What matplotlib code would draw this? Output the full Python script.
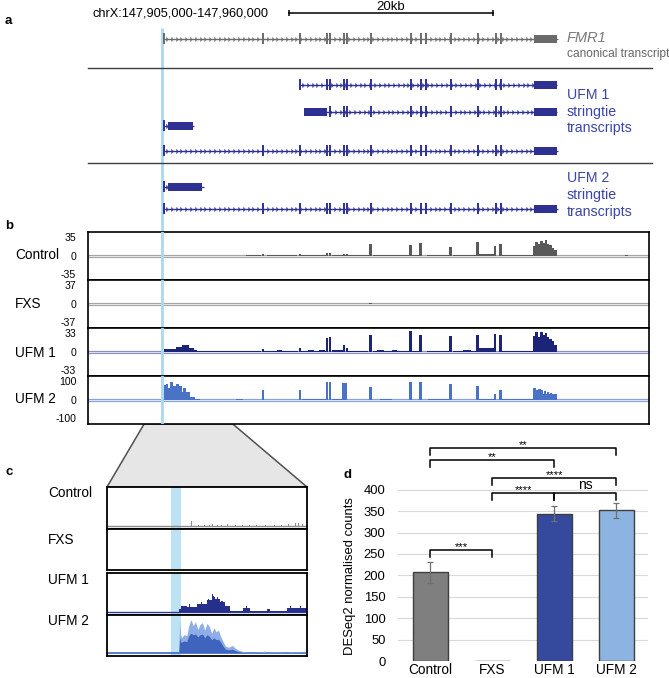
import numpy as np
import matplotlib
matplotlib.use("Agg")
import matplotlib.pyplot as plt
from matplotlib.patches import Polygon

plt.rcParams['font.family'] = ['Liberation Sans', 'DejaVu Sans']

# ---------------- data ----------------
REGION_LABEL = "chrX:147,905,000-147,960,000"
REGION_KB = (0.0, 55.0)          # kb from 147,905,000
SCALE_KB = 20
SCALE_START_KB = 19.7
HIGHLIGHT_KB = 7.28              # blue line (upstream TSS)
ZOOM_KB = (5.5, 14.2)            # region shown in panel c
ZOOM_BAND_KB = (8.28, 8.70)

# transcripts: span, exon ticks, thick blocks
fmr1_span = (7.45, 45.98)
fmr1_exons = [7.45, 17.16, 20.78, 23.43, 23.73, 25.10, 25.39, 27.75, 31.67,
              32.65, 33.14, 35.59, 38.24, 40.00, 40.49]
fmr1_blocks = [(43.73, 45.98)]

ufm1_t1_span = (20.78, 45.98)
ufm1_t1_exons = [20.78, 23.43, 23.73, 25.10, 25.39, 27.75, 31.67, 32.65, 33.14,
                 35.59, 38.24, 40.00, 40.49]
ufm1_t1_blocks = [(43.73, 45.98)]
ufm1_t2_span = (21.18, 45.98)
ufm1_t2_exons = [23.73, 25.10, 25.39, 27.75, 31.67, 32.65, 33.14, 35.59, 38.24,
                 40.00, 40.49]
ufm1_t2_blocks = [(21.18, 23.43), (43.73, 45.98)]
ufm1_t3_span = (7.45, 10.29)
ufm1_t3_exons = [7.45]
ufm1_t3_blocks = [(7.84, 10.29)]
ufm1_t4_span = (7.45, 45.98)
ufm1_t4_exons = fmr1_exons
ufm1_t4_blocks = [(43.73, 45.98)]

ufm2_t1_span = (7.45, 11.18)
ufm2_t1_exons = [7.45]
ufm2_t1_blocks = [(7.84, 11.18)]
ufm2_t2_span = (7.45, 45.98)
ufm2_t2_exons = fmr1_exons
ufm2_t2_blocks = [(43.73, 45.98)]

# panel b coverage tracks (kb positions, heights)
track_names = ["Control", "FXS", "UFM 1", "UFM 2"]
track_max = [35, 37, 33, 100]

ctrl_peak_kb = [17.16, 20.78, 23.43, 23.73, 25.10, 25.39, 27.70, 31.60, 32.60, 35.55,
                38.20, 39.90, 40.45, 43.80, 44.00, 44.20, 44.45, 44.70, 44.90, 45.10,
                45.35, 45.60, 45.85, 52.80]
ctrl_peak_h = [2.5, 3.5, 4, 4.5, 3.5, 3, 18, 15.5, 19.5, 13,
               20, 14.5, 18, 15, 20, 17, 22, 19, 23, 18,
               16, 12, 9, 1]
ctrl_seg_start = [8.0, 15.5, 17.5, 20.9, 23.9, 27.9, 31.8, 33.2, 35.8, 38.3, 40.6, 43.7]
ctrl_seg_end = [17.0, 17.0, 20.5, 23.3, 27.5, 31.5, 32.5, 35.4, 38.1, 39.9, 43.6, 45.9]
ctrl_seg_h = [0.6, 1.2, 1.5, 2.0, 1.8, 1.0, 1.0, 1.2, 1.5, 3.5, 1.2, 8]

fxs_peak_kb = [27.70, 45.30]
fxs_peak_h = [0.8, 0.6]
fxs_seg_start = []
fxs_seg_end = []
fxs_seg_h = []

ufm1_peak_kb = [17.16, 20.78, 23.43, 23.73, 25.10, 25.39, 27.70, 31.60, 32.60, 35.55,
                38.20, 39.90, 40.45, 43.80, 44.00, 44.20, 44.45, 44.70, 44.90, 45.10,
                45.35, 45.60, 45.85, 47.5, 49.5, 51.0, 54.0]
ufm1_peak_h = [3.5, 5, 19, 21, 10, 6, 24, 29, 24, 21.5,
               24, 25, 24, 22, 27, 20, 28, 24, 26, 21,
               18, 15, 10, 0.6, 0.6, 0.5, 0.6]
ufm1_seg_start = [7.45, 8.6, 9.2, 9.9, 10.4, 10.7, 11.3, 14.0, 15.0, 17.3, 18.5, 20.9, 21.6,
                  22.6, 23.9, 25.5, 27.9, 28.3, 29.8, 31.8, 33.2, 35.8, 36.8, 38.3, 40.6, 43.7]
ufm1_seg_end = [8.6, 9.2, 9.9, 10.4, 10.7, 17.0, 11.8, 14.5, 16.6, 20.6, 19.0, 23.3, 22.2,
                23.2, 25.0, 27.5, 31.5, 29.0, 30.3, 32.5, 35.4, 38.1, 37.5, 39.9, 43.6, 45.95]
ufm1_seg_h = [4.5, 7, 9.5, 6, 3, 0.8, 2, 1.5, 1.8, 1.5, 2.5, 1.6, 2.5,
              2.2, 2.5, 1.2, 1.5, 2.7, 2.2, 2, 1.5, 1.8, 2.5, 6, 1.8, 10]

ufm2_peak_kb = [7.55, 7.75, 7.95, 8.20, 8.50, 8.80, 9.10, 9.45, 9.80,
                17.16, 20.78, 23.43, 23.73, 25.00, 25.25, 27.70, 31.60, 32.60, 35.55,
                38.20, 39.90, 40.45, 43.80, 44.00, 44.25, 44.50, 44.80, 45.10, 45.40, 45.70]
ufm2_peak_h = [62, 68, 50, 74, 57, 68, 57, 49, 26,
               43, 43, 73, 73, 70, 70, 53, 74, 74, 67,
               60, 25, 42, 48, 42, 45, 40, 38, 35, 30, 22]
ufm2_seg_start = [7.45, 10.0, 10.5, 11.0, 14.5, 17.3, 21.0, 23.9, 28.6, 33.3, 38.3, 40.6, 43.7]
ufm2_seg_end = [10.0, 10.5, 11.0, 46.0, 15.2, 20.5, 23.3, 25.0, 29.8, 35.4, 39.9, 43.6, 45.95]
ufm2_seg_h = [35, 12, 4, 1.2, 2.5, 2.0, 2.5, 3, 4, 2.5, 5, 2.5, 25]

# panel c zoomed coverage (kb, % of track height)
c_ctrl_kb = [9.18, 9.5, 9.75, 9.95, 10.1, 10.3, 10.5, 10.75, 11.1, 11.4, 11.7, 12.0,
             12.4, 12.8, 13.1, 13.4, 13.7, 13.85, 14.0]
c_ctrl_h = [13, 3, 3, 3, 4, 3, 3, 4, 3, 3, 3, 3, 3, 3, 3, 4, 7, 8, 6]

c_ufm1_seg_start = [8.64, 8.74, 8.97, 9.40, 9.83, 10.05, 10.20, 10.41, 10.63, 10.85,
                    11.43, 11.72, 12.44, 12.59, 13.31]
c_ufm1_seg_end = [8.74, 8.97, 9.40, 9.83, 10.05, 10.20, 10.41, 10.63, 10.85, 11.43,
                  11.72, 12.44, 12.59, 13.31, 14.18]
c_ufm1_seg_h = [7, 16, 13, 20, 29, 37, 33, 24, 16, 3, 10, 3, 7, 2, 10]
c_ufm1_peak_kb = [9.10, 9.60, 9.90, 10.10, 10.15, 10.30, 10.50, 11.55, 13.50, 13.90]
c_ufm1_peak_h = [20, 25, 33, 45, 40, 38, 28, 14, 14, 15]

c_ufm2_kb = [8.62, 8.66, 8.70, 8.74, 8.85, 8.97, 9.05, 9.15, 9.25, 9.35, 9.45, 9.55,
             9.65, 9.75, 9.85, 9.95, 10.05, 10.15, 10.25, 10.35, 10.45, 10.55, 10.65,
             10.80, 10.95, 11.05, 11.20, 11.40, 11.60, 12.00, 12.30, 12.35, 12.40,
             12.80, 13.30, 13.50, 14.20]
c_ufm2_light = [0, 83, 50, 40, 48, 45, 70, 88, 72, 82, 62, 75, 80, 60, 78, 70, 52, 66,
                56, 60, 42, 30, 18, 15, 20, 14, 8, 4, 2, 2, 3, 6, 2, 3, 2, 3, 2]
c_ufm2_dark = [0, 40, 30, 28, 32, 30, 45, 52, 48, 50, 42, 48, 50, 40, 48, 44, 35, 40,
               35, 36, 28, 18, 10, 8, 10, 7, 4, 2, 1, 1, 1, 2, 1, 1, 1, 1, 1]

# panel d bar chart
groups = ["Control", "FXS", "UFM 1", "UFM 2"]
counts = [207, 0, 344, 352]
counts_err = [24, 0, 18, 18]
# significance brackets: (left group, right group, bracket height, label)
sig_left = [0, 0, 1, 1, 2, 0]
sig_right = [3, 2, 3, 2, 3, 1]
sig_y = [497, 469, 427, 392, 392, 259]
sig_label = ["**", "**", "****", "****", "ns", "***"]

# ---------------- layout helpers ----------------
W, H = 669, 678
fig = plt.figure(figsize=(W / 100, H / 100), dpi=100)


def rect(x0, y0, x1, y1):
    return [x0 / W, 1 - y1 / H, (x1 - x0) / W, (y1 - y0) / H]


GRAY_TX = '#6b6b6b'
BLUE_TX = '#2e3192'
LBL_BLUE = '#3b45a8'
HL_BLUE = '#a9d9ef'

ov = fig.add_axes([0, 0, 1, 1])
ov.set_xlim(0, W)
ov.set_ylim(H, 0)
ov.axis('off')

# ---------------- panel a ----------------
A_X0, A_X1 = 88, 649
ax_a = fig.add_axes(rect(A_X0, 0, A_X1, 232))
ax_a.set_xlim(*REGION_KB)
ax_a.set_ylim(232, 0)
ax_a.axis('off')


def draw_tx(ax, y, span, exons, blocks, color):
    s, e = span
    ax.plot([s, e], [y, y], color=color, lw=0.9, solid_capstyle='butt', zorder=3)
    xs = np.arange(s + 0.3, e - 0.1, 0.47)
    ax.plot(xs, np.full(len(xs), y), ls='none', marker='4', ms=4.2, mew=0.85,
            color=color, zorder=3)
    ax.vlines(exons, y - 5.5, y + 5.5, color=color, lw=1.4, zorder=4)
    ax.broken_barh([(b0, b1 - b0) for b0, b1 in blocks], (y - 4.2, 8.4),
                   facecolors=color, edgecolors='none', zorder=4)


ax_a.text(0.46, 13.5, REGION_LABEL, fontsize=9.2, ha='left', va='center')
ax_a.plot([SCALE_START_KB, SCALE_START_KB + SCALE_KB], [13.5, 13.5], color='black', lw=1.1)
ax_a.vlines([SCALE_START_KB, SCALE_START_KB + SCALE_KB], 10.5, 16.5, color='black', lw=1.1)
ax_a.text(SCALE_START_KB + SCALE_KB / 2, 6.5, f"{SCALE_KB}kb", fontsize=9.5,
          ha='center', va='center')

draw_tx(ax_a, 39, fmr1_span, fmr1_exons, fmr1_blocks, GRAY_TX)
draw_tx(ax_a, 85, ufm1_t1_span, ufm1_t1_exons, ufm1_t1_blocks, BLUE_TX)
draw_tx(ax_a, 112, ufm1_t2_span, ufm1_t2_exons, ufm1_t2_blocks, BLUE_TX)
draw_tx(ax_a, 126, ufm1_t3_span, ufm1_t3_exons, ufm1_t3_blocks, BLUE_TX)
draw_tx(ax_a, 151, ufm1_t4_span, ufm1_t4_exons, ufm1_t4_blocks, BLUE_TX)
draw_tx(ax_a, 187, ufm2_t1_span, ufm2_t1_exons, ufm2_t1_blocks, BLUE_TX)
draw_tx(ax_a, 209, ufm2_t2_span, ufm2_t2_exons, ufm2_t2_blocks, BLUE_TX)

for ysep in (68, 163):
    ax_a.plot([0, 55.3], [ysep, ysep], color='#404040', lw=1.0, clip_on=False)

LX = 46.96
ax_a.text(LX, 38, "FMR1", fontsize=10.5, style='italic', color='#7a7a7a', va='center')
ax_a.text(LX, 54, "canonical transcript", fontsize=8.6, color='#666666', va='center')
for txt, yy in (("UFM 1", 95), ("stringtie", 112), ("transcripts", 128),
                ("UFM 2", 178), ("stringtie", 195), ("transcripts", 212)):
    ax_a.text(LX, yy, txt, fontsize=10.2, color=LBL_BLUE, va='center')

ax_a.vlines(HIGHLIGHT_KB, 28, 232, color=HL_BLUE, lw=2.0, zorder=1)

# ---------------- panel b ----------------
track_rows = [(232, 280), (280, 328), (328, 376), (376, 424)]
track_label_y = [255, 304, 353, 399]
track_fill = ['#595959', '#595959', '#1c2478', '#4a72c6']
track_zero = ['#a6a6a6', '#a6a6a6', '#8a90c6', '#86a3de']
peaks_kb = [ctrl_peak_kb, fxs_peak_kb, ufm1_peak_kb, ufm2_peak_kb]
peaks_h = [ctrl_peak_h, fxs_peak_h, ufm1_peak_h, ufm2_peak_h]
segs = [(ctrl_seg_start, ctrl_seg_end, ctrl_seg_h),
        (fxs_seg_start, fxs_seg_end, fxs_seg_h),
        (ufm1_seg_start, ufm1_seg_end, ufm1_seg_h),
        (ufm2_seg_start, ufm2_seg_end, ufm2_seg_h)]
PEAK_W = 0.27

for i in range(4):
    y0, y1 = track_rows[i]
    ax = fig.add_axes(rect(A_X0, y0, A_X1, y1))
    m = track_max[i]
    ax.set_xlim(*REGION_KB)
    ax.set_ylim(-m, m)
    ax.set_xticks([])
    ax.set_yticks([])
    for sp in ax.spines.values():
        sp.set_linewidth(1.2)
        sp.set_color('black')
    ax.axhline(0, color=track_zero[i], lw=2.3, zorder=1)
    ax.axhline(-0.02 * m, color='white', lw=0.5, zorder=1.2)
    ss, se, sh = segs[i]
    if ss:
        ax.bar(ss, sh, width=np.subtract(se, ss), align='edge', color=track_fill[i],
               lw=0, zorder=2)
    ax.bar(peaks_kb[i], peaks_h[i], width=PEAK_W, color=track_fill[i], lw=0, zorder=2)
    ax.axvline(HIGHLIGHT_KB, color=HL_BLUE, lw=2.0, zorder=3)
    for val, dy in ((m, -4.3), (0, -0.5), (-m, 3.6)):
        ax.annotate(f"{val}", xy=(0, val), xycoords=('axes fraction', 'data'),
                    xytext=(-8.5, dy), textcoords='offset points', ha='right',
                    va='center', fontsize=7.6)
    fig.text(15 / W, 1 - track_label_y[i] / H, track_names[i], fontsize=9.8,
             ha='left', va='center')

# zoom trapezoid
px_per_kb = (A_X1 - A_X0) / (REGION_KB[1] - REGION_KB[0])
zx0 = A_X0 + ZOOM_KB[0] * px_per_kb
zx1 = A_X0 + ZOOM_KB[1] * px_per_kb
C_X0, C_X1 = 107, 307
ov.add_patch(Polygon([(zx0, 424), (zx1, 424), (C_X1, 487), (C_X0, 487)], closed=True,
                     facecolor='#e6e6e6', edgecolor='#505050', lw=1.1))

# ---------------- panel c ----------------
c_rows = [(487, 529), (529, 569.5), (572.5, 615), (615, 656)]
c_label_y = [493, 540, 580, 621]
for i in range(4):
    y0, y1 = c_rows[i]
    ax = fig.add_axes(rect(C_X0, y0, C_X1, y1))
    ax.set_xlim(*ZOOM_KB)
    ax.set_ylim(-8, 100)
    ax.set_xticks([])
    ax.set_yticks([])
    for sp in ax.spines.values():
        sp.set_linewidth(1.3)
        sp.set_color('black')
    ax.axvspan(*ZOOM_BAND_KB, color='#bde2f3', lw=0, zorder=0)
    if i == 0:
        ax.axhline(0, color='#8c8c8c', lw=1.0, zorder=1)
        ax.bar(c_ctrl_kb, c_ctrl_h, width=0.04, color='#8c8c8c', lw=0, zorder=2)
    elif i == 2:
        ax.axhline(0, color='#2b3a9a', lw=1.0, zorder=1)
        ax.bar(c_ufm1_seg_start, c_ufm1_seg_h,
               width=np.subtract(c_ufm1_seg_end, c_ufm1_seg_start), align='edge',
               color='#26308c', lw=0, zorder=2)
        ax.bar(c_ufm1_peak_kb, c_ufm1_peak_h, width=0.05, color='#26308c', lw=0, zorder=2)
    elif i == 3:
        ax.axhline(0, color='#3a66c8', lw=1.2, zorder=1)
        ax.fill_between(c_ufm2_kb, c_ufm2_light, color='#8faee6', lw=0, zorder=2)
        ax.fill_between(c_ufm2_kb, c_ufm2_dark, color='#3f64bd', lw=0, zorder=3)
    fig.text(48 / W, 1 - c_label_y[i] / H, track_names[i], fontsize=9.8,
             ha='left', va='center')

# ---------------- panel d ----------------
PX_PER_UNIT = 171.3 / 400
D_YMAX = 520
D_X0, D_X1, D_Y1 = 398, 648, 661
ax_d = fig.add_axes(rect(D_X0, D_Y1 - D_YMAX * PX_PER_UNIT, D_X1, D_Y1))
xpos = np.arange(len(groups))
ax_d.set_xlim(-0.52, -0.52 + (D_X1 - D_X0) / 62)
ax_d.set_ylim(0, D_YMAX)
ax_d.set_yticks(np.arange(0, 401, 50))
ax_d.set_xticks(xpos)
ax_d.set_xticklabels(groups, fontsize=9.8)
ax_d.tick_params(axis='y', length=0, labelsize=9.4, pad=9)
ax_d.tick_params(axis='x', length=0, pad=1.5)
for sp in ax_d.spines.values():
    sp.set_visible(False)
ax_d.grid(axis='y', color='#d9d9d9', lw=0.8)
ax_d.set_axisbelow(True)
ax_d.patch.set_alpha(0)
bar_colors = ['#7f7f7f', '#7f7f7f', '#354a9c', '#8db3e2']
ax_d.bar(xpos, counts, width=0.565, color=bar_colors, edgecolor='#3f3f3f', lw=1.0,
         zorder=2)
ax_d.errorbar(xpos[[0, 2, 3]], np.array(counts)[[0, 2, 3]],
              yerr=np.array(counts_err)[[0, 2, 3]], fmt='none', ecolor='#6f6f6f',
              elinewidth=0.9, capsize=2.5, capthick=0.9, zorder=3)
ax_d.set_ylabel("DESeq2 normalised counts", fontsize=9.4)
ax_d.yaxis.set_label_coords((356 - D_X0) / (D_X1 - D_X0),
                            (661 - 576) / (D_YMAX * PX_PER_UNIT))

TICK = 16
for l, r, yb, lab in zip(sig_left, sig_right, sig_y, sig_label):
    ax_d.plot([l, l, r, r], [yb - TICK, yb, yb, yb - TICK], color='black', lw=1.1,
              clip_on=False, zorder=4)
    if lab == 'ns':
        ax_d.text((l + r) / 2, yb + 2, lab, ha='center', va='bottom', fontsize=10)
    else:
        ax_d.text((l + r) / 2, yb - 4, lab, ha='center', va='bottom', fontsize=8)

# panel letters
for letter, x, y in (("a", 5, 21), ("b", 5, 226), ("c", 5, 472), ("d", 343, 475)):
    fig.text(x / W, 1 - y / H, letter, fontsize=9.5, fontweight='bold', ha='left',
             va='center')

fig.savefig("out.png", dpi=100)
